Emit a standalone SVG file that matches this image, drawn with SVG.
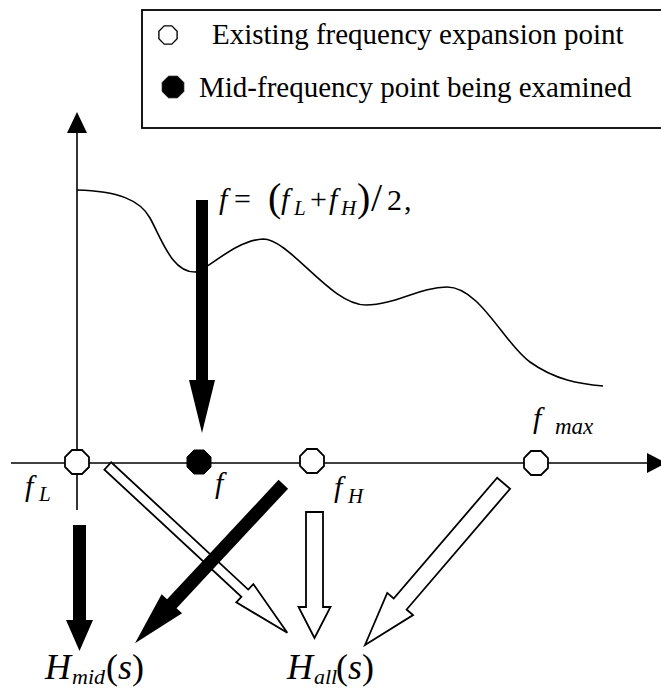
<svg xmlns="http://www.w3.org/2000/svg" width="661" height="698" viewBox="0 0 661 698">
<style>
.t{font-family:"Liberation Serif","Times New Roman",serif;fill:#000}
.i{font-style:italic}
.ln{stroke:#000;stroke-width:1.6;fill:none}
.blk{fill:#000;stroke:none}
.hol{fill:#fff;stroke:#000;stroke-width:1.8;stroke-linejoin:miter}
.oct{fill:#fff;stroke:#000;stroke-width:1.8}
.octf{fill:#000;stroke:#000;stroke-width:1}
</style>
<defs>
<polygon id="octs" points="12,5 5,12 -5,12 -12,5 -12,-5 -5,-12 5,-12 12,-5"/>
</defs>
<rect x="0" y="0" width="661" height="698" fill="#fff"/>

<g id="legend">
<rect x="142" y="10" width="530" height="118" fill="#fff" stroke="#000" stroke-width="1.8"/>
<use href="#octs" class="oct" transform="translate(168,35) scale(0.76)"/>
<text class="t" x="212" y="44" font-size="29">Existing frequency expansion point</text>
<use href="#octs" class="octf" transform="translate(173,87) scale(0.9)"/>
<text class="t" x="199" y="97" font-size="29">Mid-frequency point being examined</text>
</g>

<g id="axes">
<line class="ln" x1="77" y1="130" x2="77" y2="510"/>
<polygon class="blk" points="77,112 67,133 87,133"/>
<line class="ln" x1="11" y1="463" x2="648" y2="463"/>
<polygon class="blk" points="647,453 666,463 647,473"/>
</g>

<g id="curve">
<path class="ln" stroke-width="2" d="M77,190 C118,191 140,200 150,218 C162,240 172,272 195,272 C205,272 235,240 263,239 C290,239 330,305 366,305 C395,305 420,287 447,287 C480,287 505,345 530,362 C555,380 580,384 603,386"/>
</g>

<g id="formula">
<text class="t i" x="219" y="209" font-size="30">f</text>
<text class="t" x="234" y="209" font-size="30">=</text>
<text class="t" x="268" y="211" font-size="40">(</text>
<text class="t i" x="281" y="209" font-size="30">f</text>
<text class="t i" x="294" y="215" font-size="21">L</text>
<text class="t" x="310" y="209" font-size="30">+</text>
<text class="t i" x="329" y="209" font-size="30">f</text>
<text class="t i" x="341" y="215" font-size="21">H</text>
<text class="t" x="357" y="211" font-size="40">)</text>
<text class="t" x="371" y="211" font-size="40">/</text>
<text class="t" x="387" y="210" font-size="30">2</text>
<text class="t" x="404" y="210" font-size="30">,</text>
</g>

<g id="connectors">
<polygon class="blk" stroke="#fff" stroke-width="6" paint-order="stroke" transform="translate(202,433)" points="0,0 -13,-53 -6,-53 -6,-233 6,-233 6,-53 13,-53"/>
<polygon class="hol" transform="translate(287.3,632.7) rotate(-47.1)" points="0,0 -12.5,-58 -5,-58 -5,-245 5,-245 5,-58 12.5,-58"/>
<polygon class="hol" transform="translate(314.5,638)" points="0,0 -16,-31 -8.5,-31 -8.5,-126 8.5,-126 8.5,-31 16,-31"/>
<polygon class="hol" transform="translate(365,645) rotate(40.6)" points="0,0 -17,-54 -8.5,-54 -8.5,-213 8.5,-213 8.5,-54 17,-54"/>
<polygon class="blk" transform="translate(79.5,651)" points="0,0 -13.5,-31 -6.5,-31 -6.5,-126 6.5,-126 6.5,-31 13.5,-31"/>
<polygon class="blk" transform="translate(135,643.3) rotate(43)" points="0,0 -14,-54 -6.5,-54 -6.5,-217.5 6.5,-217.5 6.5,-54 14,-54"/>
</g>

<g id="point-fL">
<use href="#octs" class="oct" transform="translate(77,462)"/>
<text class="t i" x="25" y="496" font-size="30">f</text>
<text class="t i" x="39" y="501" font-size="21">L</text>
</g>
<g id="point-f">
<use href="#octs" class="octf" transform="translate(199,462)"/>
<text class="t i" x="215" y="493" font-size="30">f</text>
</g>
<g id="point-fH">
<use href="#octs" class="oct" transform="translate(312,461)"/>
<text class="t i" x="334" y="497" font-size="30">f</text>
<text class="t i" x="348" y="503" font-size="21">H</text>
</g>
<g id="point-fmax">
<use href="#octs" class="oct" transform="translate(536,463)"/>
<text class="t i" x="533" y="428" font-size="30">f</text>
<text class="t i" x="555" y="434" font-size="23">max</text>
</g>

<g id="H-mid">
<text class="t i" x="45" y="679" font-size="36">H</text>
<text class="t i" x="72" y="684" font-size="22">mid</text>
<text class="t" x="106" y="679" font-size="36">(</text>
<text class="t i" x="118" y="679" font-size="36">s</text>
<text class="t" x="132" y="679" font-size="36">)</text>
</g>
<g id="H-all">
<text class="t i" x="287" y="679" font-size="36">H</text>
<text class="t i" x="314" y="684" font-size="22">all</text>
<text class="t" x="336" y="679" font-size="36">(</text>
<text class="t i" x="348" y="679" font-size="36">s</text>
<text class="t" x="362" y="679" font-size="36">)</text>
</g>
</svg>
